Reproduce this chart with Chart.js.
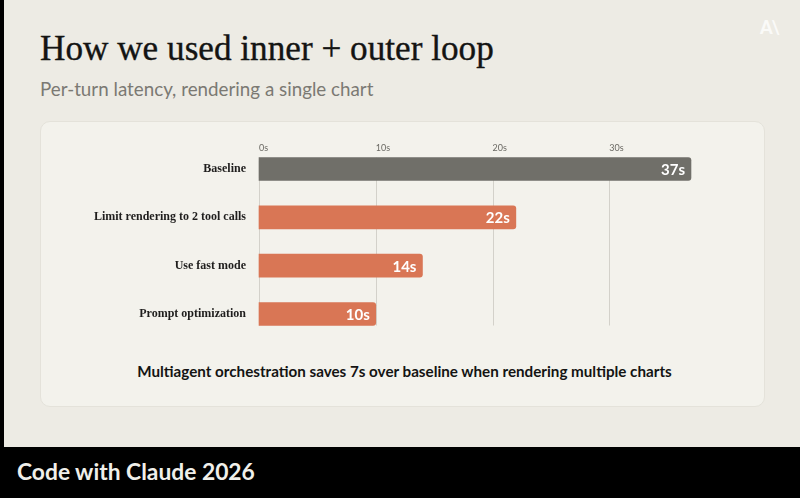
<!DOCTYPE html>
<html>
<head>
<meta charset="utf-8">
<script src="https://cdn.jsdelivr.net/npm/chart.js@4.4.1/dist/chart.umd.min.js"></script>
<style>
  html, body { margin:0; padding:0; width:800px; height:498px; overflow:hidden; background:#000; }
  #slide { position:absolute; left:4px; top:0; width:796px; height:447px; background:#edebe4; }
  #title { position:absolute; left:40px; top:31px; margin:0; font-family:"Liberation Serif", serif; font-weight:400; font-size:35.2px; line-height:35px; color:#141413; -webkit-text-stroke:0.35px #141413; white-space:nowrap; }
  #subtitle { position:absolute; left:40px; top:78px; font-family:Lato, sans-serif; font-size:18.8px; line-height:22px; color:#7b7973; white-space:nowrap; }
  #card { position:absolute; left:40px; top:121px; width:725px; height:286px; background:#f3f2ec; border:1px solid #e4e2da; border-radius:10px; box-sizing:border-box; }
  #caption { position:absolute; left:42px; width:725px; top:361px; text-align:center; font-family:Lato, sans-serif; font-weight:700; font-size:15.2px; line-height:20px; color:#141413; white-space:nowrap; }
  #footer { position:absolute; left:17px; top:458px; font-family:Lato, sans-serif; font-weight:700; font-size:22.8px; line-height:27px; color:#f0efea; white-space:nowrap; }
  #logo { position:absolute; left:760px; top:16px; font-family:Lato, sans-serif; font-weight:900; font-size:18px; color:rgba(255,255,255,0.75); }
  #c { position:absolute; left:0; top:0; }
</style>
</head>
<body>
<div id="slide"></div>
<div id="title">How we used inner + outer loop</div>
<div id="subtitle">Per-turn latency, rendering a single chart</div>
<div id="card"></div>
<div id="caption">Multiagent orchestration saves 7s over baseline when rendering multiple charts</div>
<div id="footer">Code with Claude 2026</div>
<div id="logo">A\</div>
<canvas id="c" width="800" height="498"></canvas>
<script>
const categories = ["Baseline", "Limit rendering to 2 tool calls", "Use fast mode", "Prompt optimization"];
const latencySeconds = [37, 22, 14, 10];
const tickLabels = ["0s", "10s", "20s", "30s"];
const barColors = ["#706f69", "#d97655", "#d97655", "#d97655"];

const gridPlugin = {
  id: "barGrid",
  beforeDatasetsDraw(chart) {
    const xs = chart.scales.x;
    const meta = chart.getDatasetMeta(0);
    const first = meta.data[0], last = meta.data[meta.data.length - 1];
    const top = first.y - first.height / 2;
    const bottom = last.y + last.height / 2;
    const ctx = chart.ctx;
    ctx.save();
    ctx.strokeStyle = "#d3d1ca";
    ctx.lineWidth = 1;
    xs.ticks.forEach((t, i) => {
      if (i >= tickLabels.length) return;
      const x = Math.round(xs.getPixelForValue(t.value)) + 0.5;
      ctx.beginPath();
      ctx.moveTo(x, top);
      ctx.lineTo(x, bottom);
      ctx.stroke();
    });
    ctx.restore();
  }
};

const valuePlugin = {
  id: "barValues",
  afterDatasetsDraw(chart) {
    const meta = chart.getDatasetMeta(0);
    const ctx = chart.ctx;
    ctx.save();
    ctx.font = "700 15px Lato, sans-serif";
    ctx.fillStyle = "#ffffff";
    ctx.textAlign = "right";
    ctx.textBaseline = "middle";
    meta.data.forEach((bar, i) => {
      ctx.fillText(latencySeconds[i] + "s", bar.x - 6, bar.y + 1);
    });
    ctx.restore();
  }
};

new Chart(document.getElementById("c"), {
  type: "bar",
  data: {
    labels: categories,
    datasets: [{
      data: latencySeconds,
      backgroundColor: barColors,
      borderRadius: 3,
      borderSkipped: "start",
      barThickness: 23,
      clip: false
    }]
  },
  options: {
    indexAxis: "y",
    responsive: false,
    animation: false,
    devicePixelRatio: 1,
    layout: { padding: { left: 0, right: 74, top: 120, bottom: 184 } },
    plugins: { legend: { display: false }, tooltip: { enabled: false } },
    scales: {
      x: {
        position: "top",
        min: 0, max: 40,
        afterFit(scale) { scale.height = 49; },
        border: { display: false },
        grid: { display: false },
        ticks: {
          stepSize: 10,
          align: "start",
          padding: 8,
          color: "#6b6a64",
          font: { family: "Lato", size: 9 },
          callback: (v, i) => tickLabels[i] ?? ""
        }
      },
      y: {
        offset: false,
        afterFit(scale) { scale.width = 259; },
        border: { display: false },
        grid: { display: false, drawTicks: false },
        ticks: {
          padding: 13,
          color: "#1f1e1d",
          font: { family: "Liberation Serif", size: 12, weight: "bold" }
        }
      }
    }
  },
  plugins: [gridPlugin, valuePlugin]
});
</script>
</body>
</html>
